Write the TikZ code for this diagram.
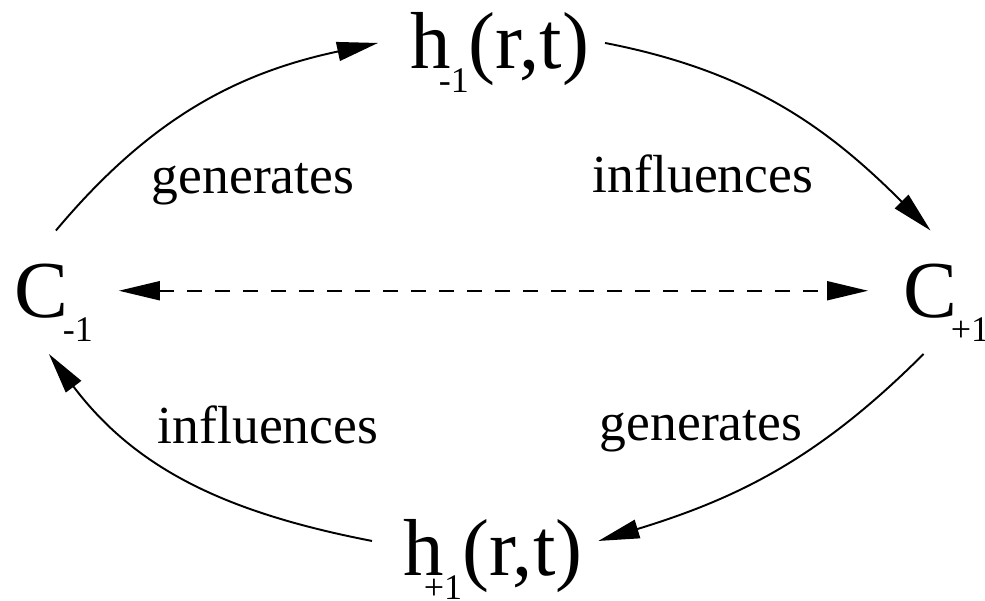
\documentclass[tikz,border=0pt]{standalone}
\usepackage{fontspec}
\setmainfont{Liberation Serif}
\usetikzlibrary{arrows.meta}

\newcommand{\lowidx}[1]{\raisebox{-0.5cm}{\fontsize{20.5}{20.5}\selectfont #1}}

\begin{document}
\begin{tikzpicture}[x=0.02cm, y=0.02cm,
  >={Triangle[length=0.82cm, width=0.38cm]}, line width=1.1pt,
  state/.style={anchor=base west, inner sep=0pt, font=\fontsize{46}{46}\selectfont},
  verb/.style={anchor=base, inner sep=0pt, font=\fontsize{30.5}{30.5}\selectfont}]
  \useasboundingbox (0,0) rectangle (985,600);

  % States
  \node[state] (hm) at (410,532) {h\kern-0.25cm\lowidx{-1}(r,t)};
  \node[state] (hp) at (403,25) {h\kern-0.41cm\lowidx{+1}(r,t)};
  \node[state] (cm) at (14,283) {C\kern-0.12cm\lowidx{-1}};
  \node[state] (cp) at (903,283) {C\kern-0.14cm\lowidx{+1}};

  % Labels
  \node[verb] (g1) at (253,407) {generates};
  \node[verb] (i1) at (703,408) {influences};
  \node[verb] (i2) at (268,157) {influences};
  \node[verb] (g2) at (701,160) {generates};

  % Cycle
  \draw[->] ([shift={(2,32)}]cm.north) to[out=50, in=192] ([shift={(-32,9.5)}]hm.west);
  \draw[->] ([shift={(15,9.5)}]hm.east) to[out=-11, in=135] ([shift={(-16,32)}]cp.north);
  \draw[->] ([shift={(-23,-11)}]cp.south) to[out=225, in=17] ([shift={(15,18.5)}]hp.east);
  \draw[->] ([shift={(-31,18.5)}]hp.west) to[out=169, in=-53] ([shift={(-5,-11)}]cm.south);

  % Exchange
  \draw[<->, dash pattern=on 0.3cm off 0.26cm]
    ([shift={(25,12)}]cm.east) -- ([shift={(-35,12)}]cp.west);
\end{tikzpicture}
\end{document}
